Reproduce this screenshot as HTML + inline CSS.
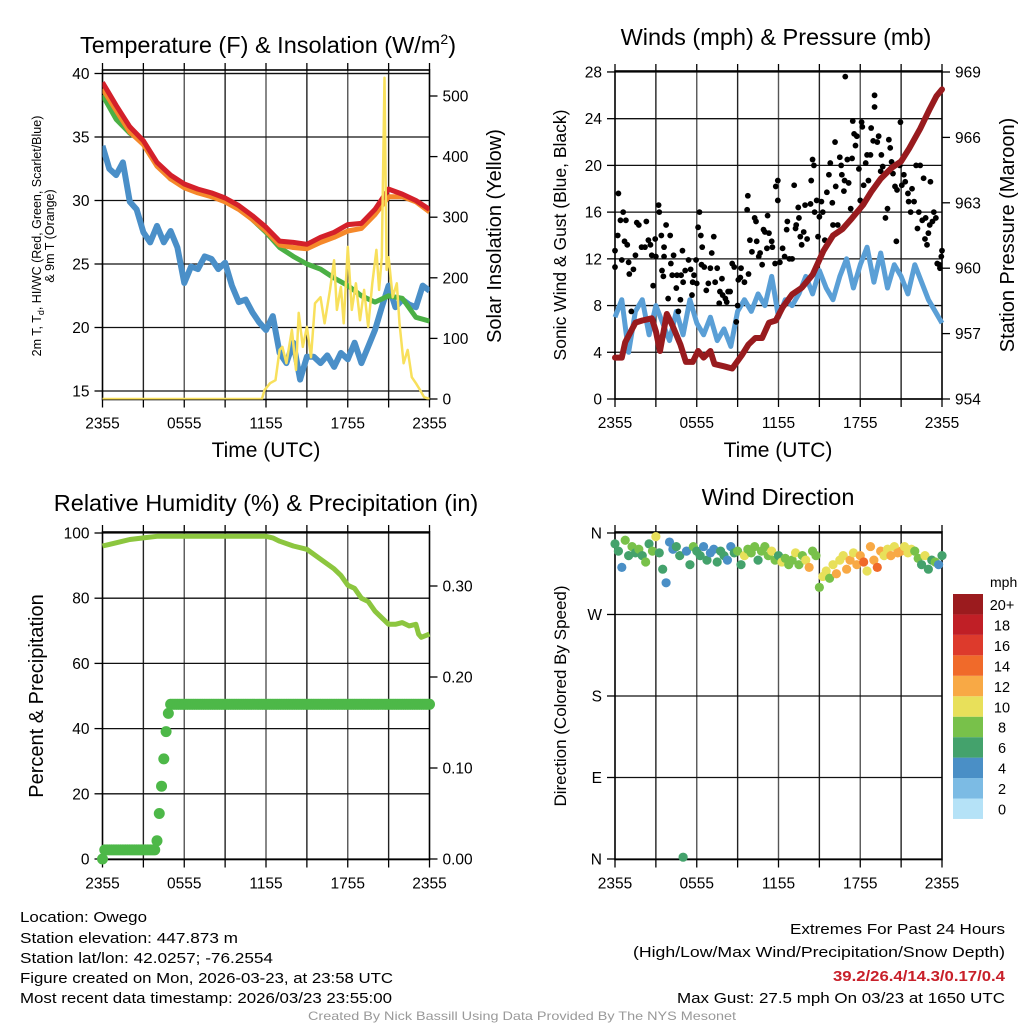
<!DOCTYPE html>
<html><head><meta charset="utf-8"><title>Owego Mesonet Meteogram</title>
<style>
html,body{margin:0;padding:0;background:#fff;}
svg{display:block;font-family:"Liberation Sans",Arial,sans-serif;}
</style></head>
<body>
<svg id="chart" width="1024" height="1024" viewBox="0 0 1024 1024" xmlns="http://www.w3.org/2000/svg">
<rect x="0" y="0" width="1024" height="1024" fill="#fff"/>
<text x="268" y="53" font-size="23.5" text-anchor="middle">Temperature (F) &amp; Insolation (W/m<tspan font-size="14" dy="-9">2</tspan><tspan dy="9">)</tspan></text>
<text x="776" y="45" font-size="23.5" text-anchor="middle">Winds (mph) &amp; Pressure (mb)</text>
<text x="266" y="511" font-size="23.5" text-anchor="middle">Relative Humidity (%) &amp; Precipitation (in)</text>
<text x="778" y="505" font-size="23.5" text-anchor="middle">Wind Direction</text>
<text transform="translate(41,236) rotate(-90)" font-size="12.5" text-anchor="middle">2m T, T<tspan font-size="9" dy="3">d</tspan><tspan dy="-3">, HI/WC (Red, Green, Scarlet/Blue)</tspan></text>
<text transform="translate(54,236) rotate(-90)" font-size="12.5" text-anchor="middle">&amp; 9m T (Orange)</text>
<text transform="translate(501,236) rotate(-90)" font-size="20" text-anchor="middle">Solar Insolation (Yellow)</text>
<text transform="translate(566,235) rotate(-90)" font-size="17.5" text-anchor="middle">Sonic Wind &amp; Gust (Blue, Black)</text>
<text transform="translate(1014,235) rotate(-90)" font-size="20" text-anchor="middle">Station Pressure (Maroon)</text>
<text transform="translate(43,696) rotate(-90)" font-size="20" text-anchor="middle">Percent &amp; Precipitation</text>
<text transform="translate(566,696) rotate(-90)" font-size="17" text-anchor="middle">Direction (Colored By Speed)</text>
<text x="266" y="457" font-size="21" text-anchor="middle">Time (UTC)</text>
<text x="778" y="457" font-size="21" text-anchor="middle">Time (UTC)</text>
<g font-size="15">
<text x="20" y="922" textLength="127" lengthAdjust="spacingAndGlyphs">Location: Owego</text>
<text x="20" y="943" textLength="218" lengthAdjust="spacingAndGlyphs">Station elevation: 447.873 m</text>
<text x="20" y="963" textLength="253" lengthAdjust="spacingAndGlyphs">Station lat/lon: 42.0257; -76.2554</text>
<text x="20" y="983" textLength="373" lengthAdjust="spacingAndGlyphs">Figure created on Mon, 2026-03-23, at 23:58 UTC</text>
<text x="20" y="1003" textLength="372" lengthAdjust="spacingAndGlyphs">Most recent data timestamp: 2026/03/23 23:55:00</text>
</g>
<g font-size="15">
<text x="790" y="934" textLength="215" lengthAdjust="spacingAndGlyphs">Extremes For Past 24 Hours</text>
<text x="633" y="957" textLength="372" lengthAdjust="spacingAndGlyphs">(High/Low/Max Wind/Precipitation/Snow Depth)</text>
<text x="833" y="981" font-weight="bold" fill="#c8202a" textLength="172" lengthAdjust="spacingAndGlyphs">39.2/26.4/14.3/0.17/0.4</text>
<text x="677" y="1003" textLength="328" lengthAdjust="spacingAndGlyphs">Max Gust: 27.5 mph On 03/23 at 1650 UTC</text>
</g>
<text x="308" y="1020" font-size="12" fill="#999" textLength="428" lengthAdjust="spacingAndGlyphs">Created By Nick Bassill Using Data Provided By The NYS Mesonet</text>
<text x="990" y="587" font-size="14">mph</text>
</svg>
<script>
// ---------------- data ----------------
const hourTicks = [0, 6, 12, 18, 24];
const hourTickLabels = ["2355", "0555", "1155", "1755", "2355"];
const tempHour = [0,1,2,3,4,5,6,7,8,9,10,11,12,13,14,15,16,17,18,19,20,21,22,23,24];
const tempRed = [39.3,37.5,35.8,34.7,33.0,32.0,31.3,30.9,30.6,30.2,29.6,28.8,27.9,26.8,26.7,26.55,27.1,27.5,28.1,28.2,29.3,30.9,30.5,30.0,29.3];
const tempOrange = [38.8,37.1,35.4,34.4,32.7,31.7,31.0,30.6,30.3,29.9,29.3,28.5,27.6,26.5,26.3,26.2,26.7,27.1,27.6,27.8,28.9,30.3,30.3,29.9,29.1];
const tempGreen = [38.3,36.4,35.3,34.6,32.9,31.7,31.2,30.8,30.4,30.0,29.5,28.5,27.5,26.3,25.6,25.0,24.6,23.9,23.3,22.5,22.0,22.5,22.3,20.8,20.5];
const dewHour = [0,0.5,1,1.5,2,2.5,3,3.5,4,4.5,5,5.5,6,6.5,7,7.5,8,8.5,9,9.5,10,10.5,11,11.5,12,12.5,13,13.5,14,14.5,15,15.5,16,16.5,17,17.5,18,18.5,19,19.5,20,20.5,21,21.5,22,22.5,23,23.5,24];
const dewBlue = [34.3,32.5,32.0,33.0,29.9,29.3,27.5,26.7,28.0,26.7,27.6,26.3,23.5,24.8,24.6,25.6,25.4,24.6,25.1,23.3,22.0,22.2,21.2,20.4,19.8,20.9,18.0,17.2,18.8,15.9,17.7,17.7,17.2,17.8,16.9,18.0,17.5,18.8,17.2,18.5,19.8,21.6,23.3,21.6,22.2,21.8,21.6,23.3,22.9];
const solarHour = [0,11.7,11.9,12.3,12.7,13.0,13.2,13.5,13.9,14.2,14.4,14.7,15.0,15.3,15.6,16.0,16.3,16.7,17.0,17.2,17.5,17.7,18.0,18.3,18.6,18.9,19.2,19.5,19.8,20.1,20.3,20.5,20.7,20.85,21.0,21.3,21.6,21.8,22.1,22.4,22.7,23.0,23.3,23.6,24];
const solarW = [0,0,15,26,31,81,86,59,114,48,142,86,119,69,158,168,125,180,229,147,185,125,251,147,191,130,180,119,191,246,180,234,530,213,234,168,191,125,59,81,36,26,15,3,0];
const tempTicks = [15,20,25,30,35,40];
const solarTicks = [0,100,200,300,400,500];

const windHour = dewHour;
const windMph = [7.0,8.5,4.0,7.5,8.5,5.5,8.0,6.5,5.0,7.5,5.5,8.5,6.5,5.5,7.0,5.0,6.0,4.5,7.5,8.5,7.5,9.0,8.0,10.5,7.0,8.5,8.0,9.0,10.5,9.0,11.0,9.5,8.5,10.5,12.0,9.5,11.5,13.0,10.0,12.5,9.5,11.5,10.5,9.0,11.5,10.0,8.5,7.5,6.5];
const presHour = [0,0.5,0.75,1.5,2,2.7,3,3.3,3.8,4.2,4.8,5.2,5.7,6.1,6.5,7,7.3,8,8.6,9.3,9.8,10.3,10.8,11.3,11.8,12.3,13,13.7,14.5,15.3,16,16.7,17.4,18.2,18.8,19.5,20.3,21,21.6,22.4,23.1,23.6,24];
const presMb = [955.9,955.9,956.6,957.5,957.6,957.7,957.1,956.2,957.9,957.4,956.5,955.7,955.7,956.2,955.9,956.2,955.6,955.5,955.4,956.0,956.5,956.8,956.8,957.5,957.6,958.2,958.8,959.1,959.7,960.8,961.5,961.8,962.3,962.9,963.5,964.1,964.6,964.9,965.5,966.4,967.3,967.9,968.2];
const gustHour = [0.0,0.0,0.2,0.25,0.4,0.6,0.5,0.7,0.9,0.8,1.0,1.05,1.2,1.35,1.5,1.6,1.75,1.95,2.2,2.3,2.45,2.6,2.7,2.8,3.0,2.95,3.2,3.25,3.4,3.45,3.6,3.75,3.6,4.05,3.9,3.55,4.1,4.3,4.2,4.5,4.65,4.8,4.55,4.95,5.0,5.15,4.85,5.4,5.55,5.65,5.7,5.8,5.95,6.0,6.1,6.2,6.3,6.4,6.35,6.55,6.7,6.85,7.0,7.1,7.25,7.35,7.5,7.65,7.7,7.85,7.9,8.1,8.2,8.3,8.45,8.6,8.75,8.9,9.0,9.05,9.2,9.25,9.5,9.8,9.7,9.75,9.9,10.05,10.25,10.35,10.4,10.55,10.65,10.8,10.9,11.0,11.15,11.2,11.3,11.5,11.55,11.75,11.8,11.95,11.95,12.1,12.3,12.45,12.6,12.65,12.8,13.0,13.15,13.25,13.3,13.45,13.5,13.6,13.7,13.85,13.95,14.1,14.35,14.4,14.5,14.6,14.65,14.8,14.9,15.0,15.15,15.25,15.4,15.55,15.7,15.8,15.95,16.0,16.15,16.2,16.35,16.5,16.6,16.65,16.8,16.9,16.85,17.05,17.15,17.3,17.4,17.45,17.55,17.65,17.75,17.9,18.0,18.1,18.15,18.25,18.4,18.5,18.6,18.75,18.8,18.95,19.05,19.05,19.25,19.35,19.5,19.55,19.65,19.85,20.0,20.1,20.2,20.3,20.4,20.55,20.65,20.7,20.9,20.95,21.05,21.2,21.3,21.5,21.55,21.7,21.8,21.95,22.1,22.2,22.3,22.4,22.55,22.65,22.75,22.8,22.9,23.0,23.1,23.15,23.3,23.4,23.55,23.65,23.8,23.85,24.0,23.95];
const gustMph = [12.7,11.3,14.0,17.6,15.3,16.0,11.9,13.5,13.2,15.3,11.7,10.7,7.5,11.1,12.3,15.1,14.9,13.0,13.0,15.2,13.6,13.2,12.3,9.7,12.2,13.7,16.6,16.0,14.0,11.0,12.2,14.9,13.0,14.0,8.6,10.5,11.6,12.3,10.6,9.5,7.5,8.5,10.6,12.7,10.0,11.0,10.6,11.9,11.1,8.9,10.0,10.6,11.9,9.9,14.7,16.0,14.0,13.0,11.5,11.3,9.3,9.9,11.2,12.5,13.9,10.0,11.2,8.2,9.2,10.3,8.9,8.6,8.3,9.2,9.2,11.6,11.3,6.6,8.0,10.2,10.4,11.2,10.0,10.7,16.2,17.4,13.6,12.6,15.5,15.2,13.5,12.2,12.5,11.5,14.5,14.3,12.9,15.7,14.2,13.5,13.0,11.6,18.2,17.0,18.7,11.7,12.9,12.2,14.5,15.2,12.0,12.0,18.3,14.6,14.9,16.4,15.5,13.9,13.2,14.3,16.6,13.7,16.7,18.7,20.5,20.0,16.0,17.0,13.9,15.6,16.9,16.0,13.6,17.7,19.2,20.2,16.8,14.9,22.0,18.2,14.9,20.7,20.0,19.2,17.8,27.6,18.7,20.5,18.5,16.3,20.6,23.8,22.7,21.7,22.5,19.7,17.0,23.7,23.3,18.3,20.2,20.9,18.7,20.9,23.2,22.1,26.0,25.0,22.0,22.5,19.5,20.9,19.9,15.5,16.3,22.2,21.5,20.3,19.3,18.2,13.5,17.9,20.0,23.7,18.3,19.2,18.6,17.6,16.9,16.0,18.0,16.9,20.0,14.6,16.0,20.0,15.3,18.9,13.7,15.5,13.2,14.2,14.9,18.6,15.2,16.0,15.5,11.6,11.5,11.2,12.7,12.2];
const windTicks = [0,4,8,12,16,20,24,28];
const presTicks = [954,957,960,963,966,969];

const rhHour = [0,0.5,1,2,3,4,5,12,12.5,13,14,15,16,17,17.5,18,18.5,19,19.5,20,20.5,21,21.5,22,22.5,23,23.2,23.4,24];
const rhPct = [96,96.5,97,98,98.5,99,99,99,98.5,97.5,96,95,92,89,87,84,83,80,79,76,74,72,72,72.5,71.5,72,69,68,69];
// cumulative precipitation, one value every 10 minutes
const precipIn = [0.00,
 0.01,0.01,0.01,0.01,0.01,0.01,0.01,0.01,0.01,0.01,0.01,0.01,0.01,0.01,0.01,0.01,0.01,0.01,0.01,0.01,0.01,0.01,
 0.01,0.02,0.05,0.08,0.11,0.14,0.16,
 0.17,0.17,0.17,0.17,0.17,0.17,0.17,0.17,0.17,0.17,0.17,0.17,0.17,0.17,0.17,0.17,0.17,0.17,0.17,0.17,0.17,0.17,0.17,
 0.17,0.17,0.17,0.17,0.17,0.17,0.17,0.17,0.17,0.17,0.17,0.17,0.17,0.17,0.17,0.17,0.17,0.17,0.17,0.17,0.17,0.17,0.17,
 0.17,0.17,0.17,0.17,0.17,0.17,0.17,0.17,0.17,0.17,0.17,0.17,0.17,0.17,0.17,0.17,0.17,0.17,0.17,0.17,0.17,0.17,0.17,
 0.17,0.17,0.17,0.17,0.17,0.17,0.17,0.17,0.17,0.17,0.17,0.17,0.17,0.17,0.17,0.17,0.17,0.17,0.17,0.17,0.17,0.17,0.17,
 0.17,0.17,0.17,0.17,0.17,0.17,0.17,0.17,0.17,0.17,0.17,0.17,0.17,0.17,0.17,0.17,0.17,0.17,0.17,0.17,0.17,0.17,0.17];
const rhTicks = [0,20,40,60,80,100];
const precipTicks = [0,0.1,0.2,0.3];
const precipTickLabels = ["0.00","0.10","0.20","0.30"];

// wind direction, one dot every 15 minutes
const dirDeg = [348,340,322,352, 335,345,338,342, 335,328,348,340, 356,338,320,305, 350,342,345,335,
 2,340,325,345, 340,335,345,330, 338,342,328,340, 335,330,345,338, 340,325,335,342, 338,345,330,340,
 345,335,340,330, 335,328,332,325, 330,338,325,335, 330,322,340,335, 300,312,318,310, 325,315,330,335,
 320,330,338,325, 335,328,318,345, 330,322,340,335, 342,335,345,338, 340,345,338,342, 340,332,325,335,
 320,330,328,325,335];
const dirMph = [6,7,4,8, 7,8,6,9, 7,9,6,8, 10,7,6,4, 5,4,6,7, 6,5,7,9, 6,7,5,6, 4,5,7,6, 6,5,4,7,
 8,6,10,8, 8,9,7,8, 9,8,10,8, 7,10,8,9, 9,10,8,9, 11,12,8,9, 8,10,11,9, 11,12,10,11, 12,13,11,12,
 12,14,11,13, 12,14,13,11, 10,12,11,13, 12,11,10,11, 9,8,7,10, 7,6,8,5,7];
const dirTicks = [0,90,180,270,360];
const dirTickLabels = ["N","E","S","W","N"];
const colorbarLabels = ["0","2","4","6","8","10","12","14","16","18","20+"];
const speedColors = ["#b5e2f7","#7cbbe4","#4a8fc6","#44a26c","#78c14a","#e8e05a","#f8a945","#f06a2a","#dd3a2c","#c01f26","#9b1b1e"];

// ---------------- helpers ----------------
const NS = 'http://www.w3.org/2000/svg';
const svg = document.getElementById('chart');
function mk(tag, attrs, parent) {
  const e = document.createElementNS(NS, tag);
  for (const k in attrs) e.setAttribute(k, attrs[k]);
  (parent || svg).appendChild(e);
  return e;
}
function pathD(xs, ys, fx, fy) {
  return xs.map((v, i) => (i ? 'L' : 'M') + fx(v).toFixed(1) + ',' + fy(ys[i]).toFixed(1)).join('');
}

// axis scales
const xL = h => 102.5 + h * 13.625;
const xR = h => 615 + h * 13.625;
const yTemp = t => 73.5 + (40 - t) * 12.7;
const ySolar = w => 399 - w * 0.606;
const yWind = s => 399 - s * 11.68;
const yPres = p => 399 - (p - 954) * 21.8;
const yRh = r => 859 - r * 3.26;
const yPrecip = v => 859 - v * 910;
const yDir = d => 859 - d * 0.9056;

function frame(name, x0, y0, x1, y1, xf, yTicksL, yfL, labelsL, yTicksR, yfR, labelsR, gridVals) {
  const g = mk('g', {});
  
  
  for (let h = 3; h < 24; h += 3) {
    const ln = mk('line', {x1: xf(h), x2: xf(h), y1: y0, y2: y1, stroke: (h % 6 === 0) ? '#555' : '#222', 'stroke-width': 1.4}, g);
    
    
  }
  gridVals.forEach(v => {
    const ln = mk('line', {x1: x0, x2: x1, y1: yfL(v), y2: yfL(v), stroke: '#111', 'stroke-width': 1.3}, g);
    
    
  });
  const fr = mk('rect', {x: x0, y: y0, width: x1 - x0, height: y1 - y0, fill: 'none', stroke: '#000', 'stroke-width': 1.6}, g);
  
  
  for (let h = 0; h <= 24; h += 3) {
    mk('line', {x1: xf(h), x2: xf(h), y1: y1, y2: y1 + 8, stroke: '#000', 'stroke-width': 1.3}, g);
    mk('line', {x1: xf(h), x2: xf(h), y1: y0, y2: y0 - 7, stroke: '#000', 'stroke-width': 1.3}, g);
  }
  hourTicks.forEach((h, i) => {
    const t = mk('text', {x: xf(h), y: y1 + 29, 'font-size': 15.5, 'text-anchor': 'middle'}, g);
    t.textContent = hourTickLabels[i];
    
    
  });
  yTicksL.forEach((v, i) => {
    mk('line', {x1: x0 - 8, x2: x0, y1: yfL(v), y2: yfL(v), stroke: '#000', 'stroke-width': 1.3}, g);
    const t = mk('text', {x: x0 - 13, y: yfL(v) + 5.5, 'font-size': 15.5, 'text-anchor': 'end'}, g);
    t.textContent = labelsL[i];
    
    
  });
  yTicksR.forEach((v, i) => {
    mk('line', {x1: x1, x2: x1 + 8, y1: yfR(v), y2: yfR(v), stroke: '#000', 'stroke-width': 1.3}, g);
    if (labelsR) {
      const t = mk('text', {x: x1 + 13, y: yfR(v) + 5.5, 'font-size': 15.5}, g);
      t.textContent = labelsR[i];
      
      
    }
  });
  return g;
}

// ---------------- panel 1: temperature ----------------
frame('temperature-axes', 102.5, 70, 429.5, 399.5, xL, tempTicks, yTemp, tempTicks.map(String), solarTicks, ySolar, solarTicks.map(String), tempTicks.concat([40]));
const clip1 = mk('clipPath', {id: 'c1'}); mk('rect', {x: 102.5, y: 70, width: 327, height: 329.5}, clip1);
const p1 = mk('g', {'clip-path': 'url(#c1)'});


const dewLine = mk('path', {d: pathD(dewHour, dewBlue, xL, yTemp), fill: 'none', stroke: '#4a8fc8', 'stroke-width': 6, 'stroke-linejoin': 'round'}, p1);


const greenLine = mk('path', {d: pathD(tempHour, tempGreen, xL, yTemp), fill: 'none', stroke: '#4bb045', 'stroke-width': 5, 'stroke-linejoin': 'round'}, p1);


const orangeLine = mk('path', {d: pathD(tempHour, tempOrange, xL, yTemp), fill: 'none', stroke: '#f5882a', 'stroke-width': 5, 'stroke-linejoin': 'round'}, p1);


const redLine = mk('path', {d: pathD(tempHour, tempRed, xL, yTemp), fill: 'none', stroke: '#d4202a', 'stroke-width': 5, 'stroke-linejoin': 'round'}, p1);


const solarLine = mk('path', {d: pathD(solarHour, solarW, xL, ySolar), fill: 'none', stroke: '#f8e05c', 'stroke-width': 2.5, 'stroke-linejoin': 'round'}, p1);



// ---------------- panel 2: winds ----------------
frame('wind-axes', 615, 71, 942, 399, xR, windTicks, yWind, windTicks.map(String), presTicks, yPres, presTicks.map(String), windTicks);
const clip2 = mk('clipPath', {id: 'c2'}); mk('rect', {x: 612, y: 68, width: 334, height: 334}, clip2);
const p2 = mk('g', {'clip-path': 'url(#c2)'});


const windLine = mk('path', {d: pathD(windHour, windMph, xR, yWind), fill: 'none', stroke: '#5a9fd6', 'stroke-width': 5, 'stroke-linejoin': 'round'}, p2);


gustHour.forEach((h, i) => {
  const c = mk('circle', {cx: xR(h), cy: yWind(gustMph[i]), r: 2.9, fill: '#000'}, p2);
  
  
});
const presLine = mk('path', {d: pathD(presHour, presMb, xR, yPres), fill: 'none', stroke: '#981b1e', 'stroke-width': 6, 'stroke-linejoin': 'round', 'stroke-linecap': 'round'}, p2);



// ---------------- panel 3: RH & precip ----------------
frame('rh-axes', 102.5, 532, 429.5, 859.5, xL, rhTicks, yRh, rhTicks.map(String), precipTicks, yPrecip, precipTickLabels, rhTicks);
const p3 = mk('g', {});


const rhLine = mk('path', {d: pathD(rhHour, rhPct, xL, yRh), fill: 'none', stroke: '#8cc63f', 'stroke-width': 5, 'stroke-linejoin': 'round'}, p3);


precipIn.forEach((v, i) => {
  const c = mk('circle', {cx: xL(i / 6), cy: yPrecip(v), r: 5.5, fill: '#4db848'}, p3);
  
  
});

// ---------------- panel 4: wind direction ----------------
frame('direction-axes', 615, 532, 942, 859.5, xR, dirTicks, yDir, dirTickLabels, [], yDir, null, dirTicks);
const p4 = mk('g', {});


function speedBin(s) { return Math.max(0, Math.min(10, Math.floor(s / 2))); }
dirDeg.forEach((d, i) => {
  const c = mk('circle', {cx: xR(i / 4), cy: yDir(d), r: 4.6, fill: speedColors[speedBin(dirMph[i])]}, p4);
  
  
});

// colorbar
const cb = mk('g', {});


colorbarLabels.forEach((lab, i) => {
  const yTop = 594 + (10 - i) * 20.45;
  const r = mk('rect', {x: 953, y: yTop, width: 30, height: 20.45, fill: speedColors[i]}, cb);
  
  
  const t = mk('text', {x: 1002, y: yTop + 16, 'font-size': 14.5, 'text-anchor': 'middle'}, cb);
  t.textContent = lab;
  
  
});
</script>
</body></html>
